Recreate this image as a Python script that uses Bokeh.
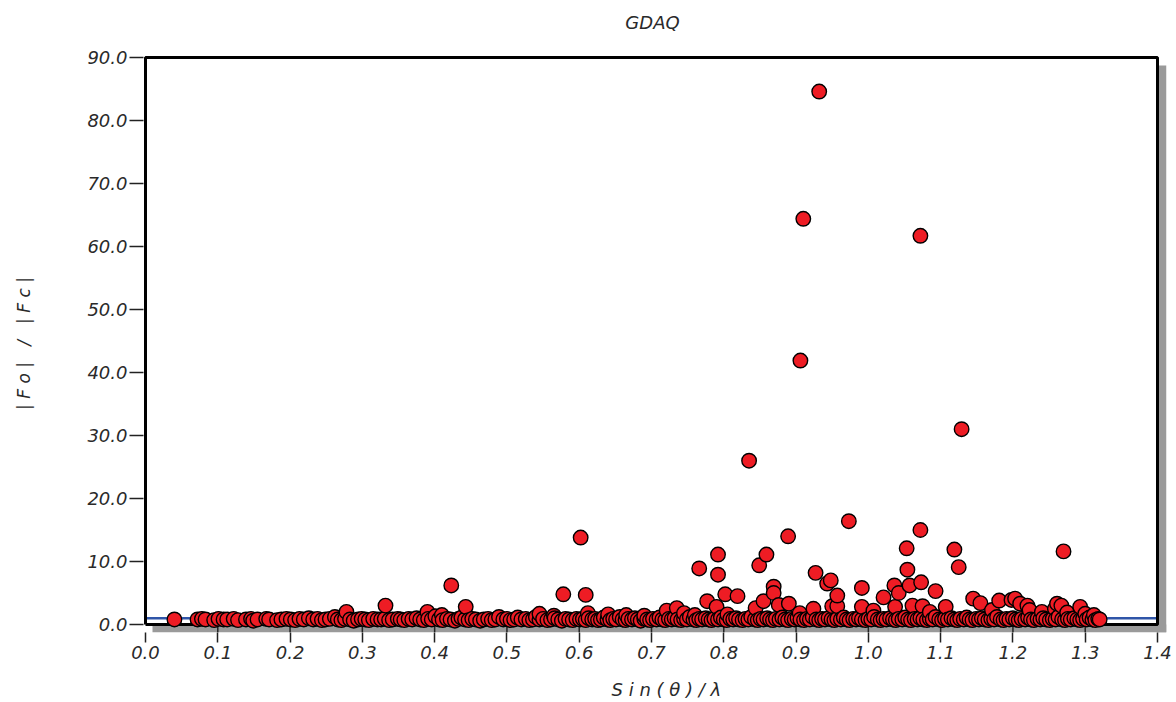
from bokeh.plotting import figure
from bokeh.models import Range1d, FixedTicker, NumeralTickFormatter, ColumnDataSource
from bokeh.core.properties import value
from bokeh.embed import file_html
from bokeh.resources import INLINE

title_text = "GDAQ"
x_label = "\u00a0\u00a0\u00a0\u00a0S i n ( θ ) / λ"
y_label = "| F o |\u00a0\u00a0\u00a0/\u00a0\u00a0\u00a0| F c |" + "\u00a0" * 10
x_ticks = [0.0, 0.1, 0.2, 0.3, 0.4, 0.5, 0.6, 0.7, 0.8, 0.9, 1.0, 1.1, 1.2, 1.3, 1.4]
y_ticks = [0, 10, 20, 30, 40, 50, 60, 70, 80, 90]
x_min, x_max = 0.0, 1.4
y_min, y_max = 0.0, 90.0
ref_level = 1.0

# dense band of reflections near |Fo|/|Fc| ~ 1
base_pts = [
    (0.040, 0.8), (0.072, 0.8), (0.078, 0.9), (0.083, 0.8), (0.095, 0.7), (0.101, 0.9), (0.108, 0.8),
    (0.113, 0.8), (0.122, 0.9), (0.128, 0.7), (0.139, 0.8), (0.146, 0.9), (0.149, 0.6), (0.155, 0.8),
    (0.167, 0.9), (0.171, 0.8), (0.182, 0.7), (0.188, 0.8), (0.195, 0.9), (0.201, 0.8), (0.207, 0.7),
    (0.213, 0.9), (0.219, 0.8), (0.226, 1.0), (0.232, 0.8), (0.238, 0.9), (0.244, 0.7), (0.249, 0.8),
    (0.255, 0.9), (0.262, 1.2), (0.266, 0.8), (0.271, 0.7), (0.276, 0.9), (0.283, 0.8), (0.288, 0.6),
    (0.294, 0.8), (0.299, 0.9),
    (0.304, 0.8), (0.309, 0.7), (0.315, 0.9), (0.321, 0.8), (0.326, 0.8), (0.331, 0.9), (0.337, 0.7),
    (0.342, 0.8), (0.349, 0.9), (0.353, 0.8), (0.358, 0.7), (0.364, 0.9), (0.369, 0.8), (0.375, 1.0),
    (0.380, 0.8), (0.385, 0.7), (0.391, 0.9), (0.396, 0.8), (0.401, 1.3), (0.406, 0.8), (0.411, 0.7),
    (0.417, 0.9), (0.422, 0.8), (0.428, 0.6), (0.433, 0.9), (0.437, 1.1), (0.442, 0.8), (0.447, 0.7),
    (0.452, 0.9), (0.457, 0.8), (0.463, 0.6), (0.468, 0.8), (0.474, 0.9), (0.479, 0.7), (0.484, 0.8),
    (0.489, 1.2), (0.495, 0.8), (0.500, 0.9), (0.505, 0.7), (0.510, 0.8), (0.515, 1.1), (0.520, 0.8),
    (0.526, 0.9), (0.531, 0.7), (0.536, 0.8), (0.540, 1.2), (0.545, 0.8), (0.550, 0.9), (0.556, 0.7),
    (0.561, 0.8), (0.566, 1.0), (0.571, 0.8), (0.576, 0.6), (0.581, 0.9), (0.586, 0.8), (0.591, 0.7),
    (0.596, 0.9),
    (0.601, 0.8), (0.605, 0.9), (0.609, 0.7), (0.613, 1.0), (0.618, 0.8), (0.622, 0.9), (0.626, 0.7),
    (0.630, 0.8), (0.634, 1.1), (0.639, 0.8), (0.643, 0.7), (0.647, 0.9), (0.651, 0.8), (0.656, 1.2),
    (0.660, 0.8), (0.664, 0.7), (0.668, 0.9), (0.673, 0.8), (0.677, 1.0), (0.681, 0.8), (0.685, 0.6),
    (0.690, 0.9), (0.694, 0.8), (0.698, 0.7), (0.702, 0.9), (0.707, 0.8), (0.711, 1.1), (0.715, 0.8),
    (0.719, 0.7), (0.724, 0.9), (0.728, 0.8), (0.732, 1.0), (0.736, 0.8), (0.741, 0.7), (0.745, 0.9),
    (0.749, 0.8), (0.753, 1.2), (0.758, 0.8), (0.762, 0.7), (0.766, 0.9), (0.770, 0.8), (0.775, 1.0),
    (0.779, 0.8), (0.783, 0.7), (0.787, 0.9), (0.792, 0.8), (0.796, 1.1), (0.800, 0.8), (0.804, 0.7),
    (0.809, 0.9), (0.813, 0.8), (0.817, 1.0), (0.821, 0.8), (0.826, 0.7), (0.830, 0.9), (0.834, 0.8),
    (0.838, 1.2), (0.843, 0.8), (0.847, 0.7), (0.851, 0.9), (0.855, 0.8), (0.860, 1.0), (0.864, 0.8),
    (0.868, 0.7), (0.872, 0.9), (0.877, 0.8), (0.881, 1.1), (0.885, 0.8), (0.889, 0.7), (0.894, 0.9),
    (0.898, 0.8), (0.902, 1.0), (0.906, 0.8), (0.911, 0.7), (0.915, 0.9), (0.919, 0.8), (0.923, 1.2),
    (0.928, 0.8), (0.932, 0.7), (0.936, 0.9), (0.940, 0.8), (0.945, 1.0), (0.949, 0.8), (0.953, 0.7),
    (0.957, 0.9), (0.962, 0.8), (0.966, 1.1), (0.970, 0.8), (0.974, 0.7), (0.979, 0.9), (0.983, 0.8),
    (0.987, 1.0), (0.991, 0.8), (0.996, 0.7), (1.000, 0.9), (1.004, 0.8), (1.008, 1.2), (1.013, 0.8),
    (1.017, 0.7), (1.021, 0.9), (1.025, 0.8), (1.030, 1.0), (1.034, 0.8), (1.038, 0.7), (1.042, 0.9),
    (1.047, 0.8), (1.051, 1.1), (1.055, 0.8), (1.059, 0.7), (1.064, 0.9), (1.068, 0.8), (1.072, 1.0),
    (1.076, 0.8), (1.081, 0.7), (1.085, 0.9), (1.089, 0.8), (1.093, 1.2), (1.098, 0.8), (1.102, 0.7),
    (1.106, 0.9), (1.110, 0.8), (1.115, 1.0), (1.119, 0.8), (1.123, 0.7), (1.127, 0.9), (1.132, 0.8),
    (1.136, 1.1), (1.140, 0.8), (1.144, 0.7), (1.149, 0.9), (1.153, 0.8), (1.157, 1.0), (1.161, 0.8),
    (1.166, 0.7), (1.170, 0.9), (1.174, 0.8), (1.178, 1.2), (1.183, 0.8), (1.187, 0.7), (1.191, 0.9),
    (1.195, 0.8), (1.200, 1.0), (1.204, 0.8), (1.208, 0.7), (1.212, 0.9), (1.217, 0.8), (1.221, 1.1),
    (1.225, 0.8), (1.229, 0.7), (1.234, 0.9), (1.238, 0.8), (1.242, 1.0), (1.246, 0.8), (1.251, 0.7),
    (1.255, 0.9), (1.259, 0.8), (1.263, 1.2), (1.268, 0.8), (1.272, 0.7), (1.276, 0.9), (1.280, 0.8),
    (1.285, 1.0), (1.289, 0.8), (1.293, 0.7), (1.297, 0.9), (1.302, 0.8), (1.306, 1.1), (1.310, 0.8),
    (1.314, 0.7), (1.318, 0.9), (1.320, 0.8),
]

# moderately raised reflections
mid_pts = [
    (0.278, 2.0), (0.332, 3.0), (0.390, 2.0), (0.410, 1.5), (0.443, 2.8), (0.545, 1.7), (0.565, 1.4),
    (0.612, 1.8), (0.640, 1.6), (0.665, 1.5), (0.690, 1.4), (0.721, 2.2), (0.735, 2.6), (0.745, 1.8),
    (0.760, 1.5), (0.790, 2.8), (0.805, 1.6), (0.844, 2.6), (0.855, 3.7), (0.876, 3.1), (0.890, 3.3),
    (0.905, 1.8), (0.924, 2.5), (0.950, 2.9), (0.957, 2.9), (0.991, 2.8), (1.007, 2.2), (1.037, 2.8),
    (1.061, 3.0), (1.075, 2.9), (1.085, 2.0), (1.107, 2.8), (1.145, 4.1), (1.155, 3.4), (1.171, 2.3),
    (1.181, 3.8), (1.198, 3.9), (1.203, 4.1), (1.210, 3.3), (1.220, 3.0), (1.223, 2.3), (1.240, 2.0),
    (1.258, 2.5), (1.261, 3.3), (1.267, 3.0), (1.275, 1.9), (1.293, 2.8), (1.300, 1.7), (1.312, 1.5),
]

# outliers
high_pts = [
    (0.423, 6.2), (0.578, 4.8), (0.602, 13.8), (0.609, 4.7), (0.766, 8.9), (0.777, 3.7), (0.792, 11.1),
    (0.792, 7.9), (0.802, 4.8), (0.819, 4.5), (0.835, 26.0), (0.849, 9.4), (0.859, 11.1), (0.869, 6.0),
    (0.869, 5.0), (0.889, 14.0), (0.906, 41.9), (0.910, 64.4), (0.927, 8.2), (0.932, 84.6), (0.943, 6.5),
    (0.948, 7.0), (0.957, 4.6), (0.973, 16.4), (0.991, 5.8), (1.021, 4.3), (1.036, 6.2), (1.042, 5.0),
    (1.053, 12.1), (1.054, 8.7), (1.057, 6.2), (1.072, 61.7), (1.072, 15.0), (1.073, 6.7), (1.093, 5.3),
    (1.119, 11.9), (1.125, 9.1), (1.129, 31.0), (1.270, 11.6),
]

all_pts = sorted(base_pts + mid_pts + high_pts, key=lambda t: t[0])
src = ColumnDataSource(data=dict(x=[t[0] for t in all_pts], y=[t[1] for t in all_pts]))

TEXT = "#2a2a2a"
FONT = "DejaVu Sans"

# frame pixel geometry: 723 px per x unit, 6.3 px per y unit
px_x = 1.0 / 723.0
px_y = 1.0 / 6.3
shadow = 8      # px
top_space = 57  # px between canvas top and the y = 90 line
title_drop = 22 # px from canvas top to title centre

p = figure(width=1176, height=702, output_backend="svg", toolbar_location=None,
           x_range=Range1d(x_min - 2 * px_x, x_max + (shadow + 1) * px_x),
           y_range=Range1d(y_min - shadow * px_y, y_max + top_space * px_y),
           min_border_left=143, min_border_right=10, min_border_top=0, min_border_bottom=70,
           background_fill_color="white", border_fill_color="white")

p.xgrid.visible = False
p.ygrid.visible = False
p.outline_line_color = None

# title drawn inside the (white) upper part of the frame
p.text(x=[(x_min + x_max) / 2 + 1 * px_x], y=[y_max + (top_space - title_drop) * px_y], text=[title_text],
       text_align="center", text_baseline="middle", text_font=value(FONT), text_font_style="italic",
       text_font_size="18px", text_color=TEXT)

# drop shadow below and right of the frame
p.quad(left=[x_min + 7 * px_x], right=[x_max + (shadow + 1) * px_x], bottom=[y_min - shadow * px_y], top=[y_min],
       fill_color="#9a9a9a", line_color=None)
p.quad(left=[x_max], right=[x_max + (shadow + 1) * px_x], bottom=[y_min - shadow * px_y], top=[y_max - shadow * px_y],
       fill_color="#9a9a9a", line_color=None)
# ticks continuing across the shadow band
p.segment(x0=x_ticks[1:-1], x1=x_ticks[1:-1], y0=[y_min] * (len(x_ticks) - 2),
          y1=[y_min - shadow * px_y] * (len(x_ticks) - 2), line_color="#222222", line_width=1.5)

# reference level line
p.line(x=[x_min, x_max], y=[ref_level, ref_level], line_color="#2f55a8", line_width=2.5)

# plot frame
p.line(x=[x_min, x_min, x_max, x_max, x_min], y=[y_min, y_max, y_max, y_min, y_min],
       line_color="black", line_width=3)

p.scatter("x", "y", source=src, size=14.5, fill_color="#ee1c24", line_color="black", line_width=1.4)

for ax in (p.xaxis[0], p.yaxis[0]):
    ax.axis_line_color = None
    ax.major_tick_line_color = "#222222"
    ax.major_tick_line_width = 1.5
    ax.major_tick_in = 0
    ax.minor_tick_line_color = None
    ax.major_label_text_font = FONT
    ax.major_label_text_font_style = "italic"
    ax.major_label_text_font_size = "18px"
    ax.major_label_text_color = TEXT
    ax.formatter = NumeralTickFormatter(format="0.0")
    ax.axis_label_text_font = FONT
    ax.axis_label_text_font_style = "italic"
    ax.axis_label_text_font_size = "17px"
    ax.axis_label_text_color = TEXT

p.xaxis[0].ticker = FixedTicker(ticks=x_ticks)
p.yaxis[0].ticker = FixedTicker(ticks=y_ticks)
p.xaxis[0].major_tick_out = 10
p.xaxis[0].major_label_standoff = 3
p.xaxis[0].axis_label = x_label
p.xaxis[0].axis_label_text_font_size = "18px"
p.xaxis[0].axis_label_standoff = 17
p.yaxis[0].major_tick_out = 14
p.yaxis[0].major_label_standoff = 2
p.yaxis[0].axis_label = y_label
p.yaxis[0].axis_label_standoff = 50

open("out.html", "w").write(file_html(p, INLINE))
